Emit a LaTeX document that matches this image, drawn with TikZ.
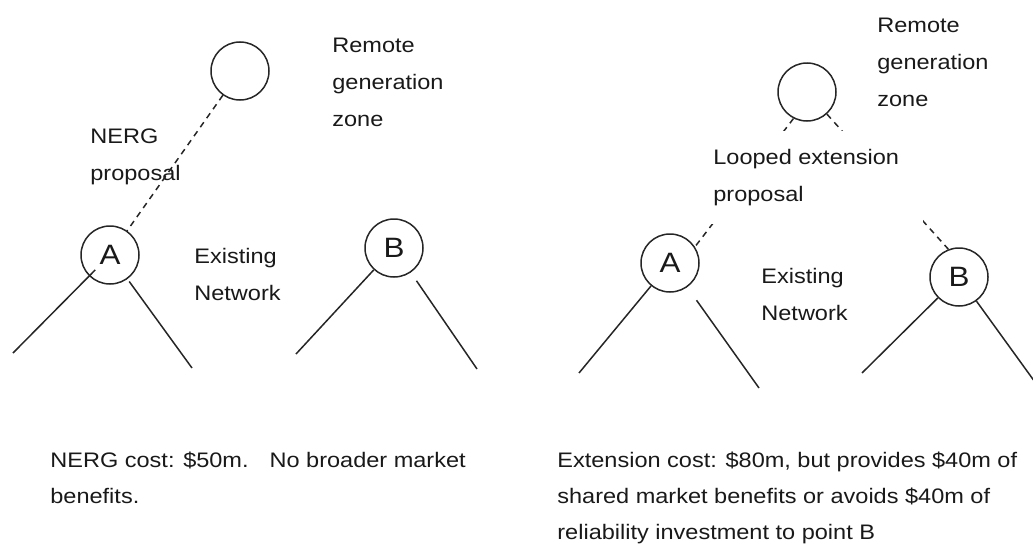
\documentclass[tikz,border=0pt]{standalone}
\usepackage{fontspec}
\setmainfont{Liberation Sans}[FakeStretch=1.12]
\usetikzlibrary{calc}

\begin{document}
\begin{tikzpicture}[x=0.5pt, y=-0.5pt,
    bus/.style={draw=black!85, circle, line width=0.75pt, minimum size=29pt, inner sep=0pt,
      font=\fontsize{14}{14}\selectfont, text=black!90},
    branch/.style={draw=black!85, line width=0.75pt},
    link/.style={draw=black!85, line width=0.75pt, dash pattern=on 3pt off 2.5pt},
    note/.style={anchor=north west, inner sep=0pt, align=left, text=black!90,
      font=\fontsize{10.5}{18.5}\selectfont}]
  \useasboundingbox (0,0) rectangle (1033,546);

  % left: NERG proposal
  \node[bus] (G1) at (240,71) {};
  \node[bus] (A1) at (110,255) {A};
  \node[bus] (B1) at (394,248) {B};
  \node[note] (zone1) at (332,38) {Remote\\generation\\zone};
  \node[note] (nerg) at (90,128) {NERG\\proposal};
  \node[note] (net1) at (194,248) {Existing\\Network};
  \coordinate (A1l) at (13,353);
  \coordinate (A1r) at (192,368);
  \coordinate (B1l) at (296,354);
  \coordinate (B1r) at (477,369);

  \draw[link] (G1) -- (A1);
  \draw[branch, shorten <=10.5pt] (A1.center) -- (A1l);
  \draw[branch, shorten <=1.5pt] (A1) -- (A1r);
  \draw[branch] (B1) -- (B1l);
  \draw[branch, shorten <=5pt] (B1) -- (B1r);

  \node[note, font=\fontsize{10.5}{18}\selectfont] (cost1) at (50,452) {NERG cost: \$50m.\quad No broader market\\benefits.};

  % right: looped extension, middle of the links hidden by the label
  \node[bus] (G2) at (807,92) {};
  \node[bus] (A2) at (670,263) {A};
  \node[bus] (B2) at (959,277) {B};
  \node[note] (zone2) at (877,18) {Remote\\generation\\zone};
  \node[note] (net2) at (761,268) {Existing\\Network};
  \coordinate (A2l) at (579,373);
  \coordinate (A2r) at (759,388);
  \coordinate (B2l) at (862,373);
  \coordinate (B2r) at (1040,389);

  \draw[link] (G2.243) -- (A2.33);
  \draw[link] (G2.312) -- (B2.111);
  \node[note, fill=white, inner xsep=12pt, inner ysep=9pt] (loop) at (689,131) {Looped extension\\proposal};

  \draw[branch] (A2) -- (A2l);
  \draw[branch, shorten <=8pt] (A2) -- (A2r);
  \draw[branch] (B2) -- (B2l);
  \draw[branch] (B2) -- (B2r);

  \node[note, font=\fontsize{10.5}{18}\selectfont] (cost2) at (557,452) {Extension cost: \$80m, but provides \$40m of\\shared market benefits or avoids \$40m of\\reliability investment to point B};
\end{tikzpicture}
\end{document}
